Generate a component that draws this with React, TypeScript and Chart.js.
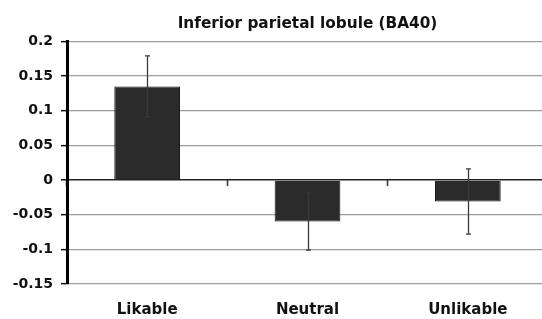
import React, { useEffect, useRef } from "react";
import { Chart, registerables } from "chart.js";

Chart.register(...registerables);

const categories = ["Likable", "Neutral", "Unlikable"];
const means = [0.135, -0.06, -0.031];
const errors = [0.044, 0.041, 0.047];
const yMin = -0.15;
const yMax = 0.2;
const yStep = 0.05;
const titleText = "Inferior parietal lobule (BA40)";

const FONT = "'DejaVu Sans', Verdana, sans-serif";

const errorBarPlugin = {
  id: "errorBars",
  afterDatasetsDraw(chart: any) {
    const meta = chart.getDatasetMeta(0);
    const yScale = chart.scales.y;
    const ctx = chart.ctx;
    ctx.save();
    ctx.strokeStyle = "#3a3a3a";
    ctx.lineWidth = 1.3;
    meta.data.forEach((bar: any, i: number) => {
      const x = Math.round(bar.x) + 0.5;
      const top = yScale.getPixelForValue(means[i] + errors[i]);
      const bot = yScale.getPixelForValue(means[i] - errors[i]);
      const cap = 2.5;
      ctx.beginPath();
      ctx.moveTo(x, top);
      ctx.lineTo(x, bot);
      ctx.moveTo(x - cap, top);
      ctx.lineTo(x + cap, top);
      ctx.moveTo(x - cap, bot);
      ctx.lineTo(x + cap, bot);
      ctx.stroke();
    });
    ctx.restore();
  },
};

export default function App() {
  const ref = useRef<HTMLCanvasElement | null>(null);
  useEffect(() => {
    if (!ref.current) return;
    const chart = new Chart(ref.current, {
      type: "bar",
      data: {
        labels: categories,
        datasets: [
          {
            data: means,
            backgroundColor: "#2b2b2b",
            borderColor: "#111111",
            borderWidth: 1,
            barPercentage: 0.41,
            categoryPercentage: 1,
            xAxisID: "x",
          },
        ],
      },
      options: {
        responsive: false,
        animation: false,
        devicePixelRatio: 1,
        layout: { padding: { left: 0, right: 4, top: 0, bottom: 0 } },
        plugins: {
          legend: { display: false },
          tooltip: { enabled: false },
          title: {
            display: true,
            text: titleText,
            fullSize: false,
            color: "#111",
            font: { family: FONT, size: 15.3, weight: "bold" },
            padding: { top: 15, bottom: 8 },
          },
        },
        scales: {
          x: {
            type: "category",
            position: "bottom",
            offset: true,
            grid: { display: false, drawTicks: false },
            border: { display: false },
            ticks: {
              color: "#111",
              padding: 17,
              font: { family: FONT, size: 15, weight: "bold" },
            },
            afterFit: (s: any) => {
              s.height = 35;
            },
          },
          x2: {
            type: "category",
            labels: categories,
            position: { y: 0 },
            offset: true,
            grid: {
              offset: true,
              drawOnChartArea: false,
              drawTicks: true,
              tickLength: 6,
              tickColor: "#333",
              tickWidth: 1.5,
            },
            border: { display: false },
            ticks: { display: false },
          },
          y: {
            min: yMin,
            max: yMax,
            ticks: {
              stepSize: yStep,
              color: "#111",
              padding: 8,
              font: { family: FONT, size: 14, weight: "bold" },
              callback: (v: any) => String(Number(Number(v).toFixed(2))),
            },
            grid: {
              color: (c: any) =>
                c.tick && Math.abs(c.tick.value) < 1e-9 ? "#222" : "#9c9c9c",
              lineWidth: (c: any) =>
                c.tick && Math.abs(c.tick.value) < 1e-9 ? 1.5 : 1.3,
              tickColor: "#111",
              tickLength: 6,
              tickWidth: 1.5,
            },
            border: { display: true, color: "#000", width: 3 },
            afterFit: (s: any) => {
              s.width = 67;
            },
          },
        },
      },
      plugins: [errorBarPlugin],
    } as any);
    return () => chart.destroy();
  }, []);
  return (
    <div
      style={{
        position: "fixed",
        left: 0,
        top: 0,
        width: 542,
        height: 319,
        overflow: "hidden",
        background: "#fff",
      }}
    >
      <canvas
        ref={ref}
        width={552}
        height={319}
        style={{ width: 552, height: 319, display: "block" }}
      />
    </div>
  );
}
